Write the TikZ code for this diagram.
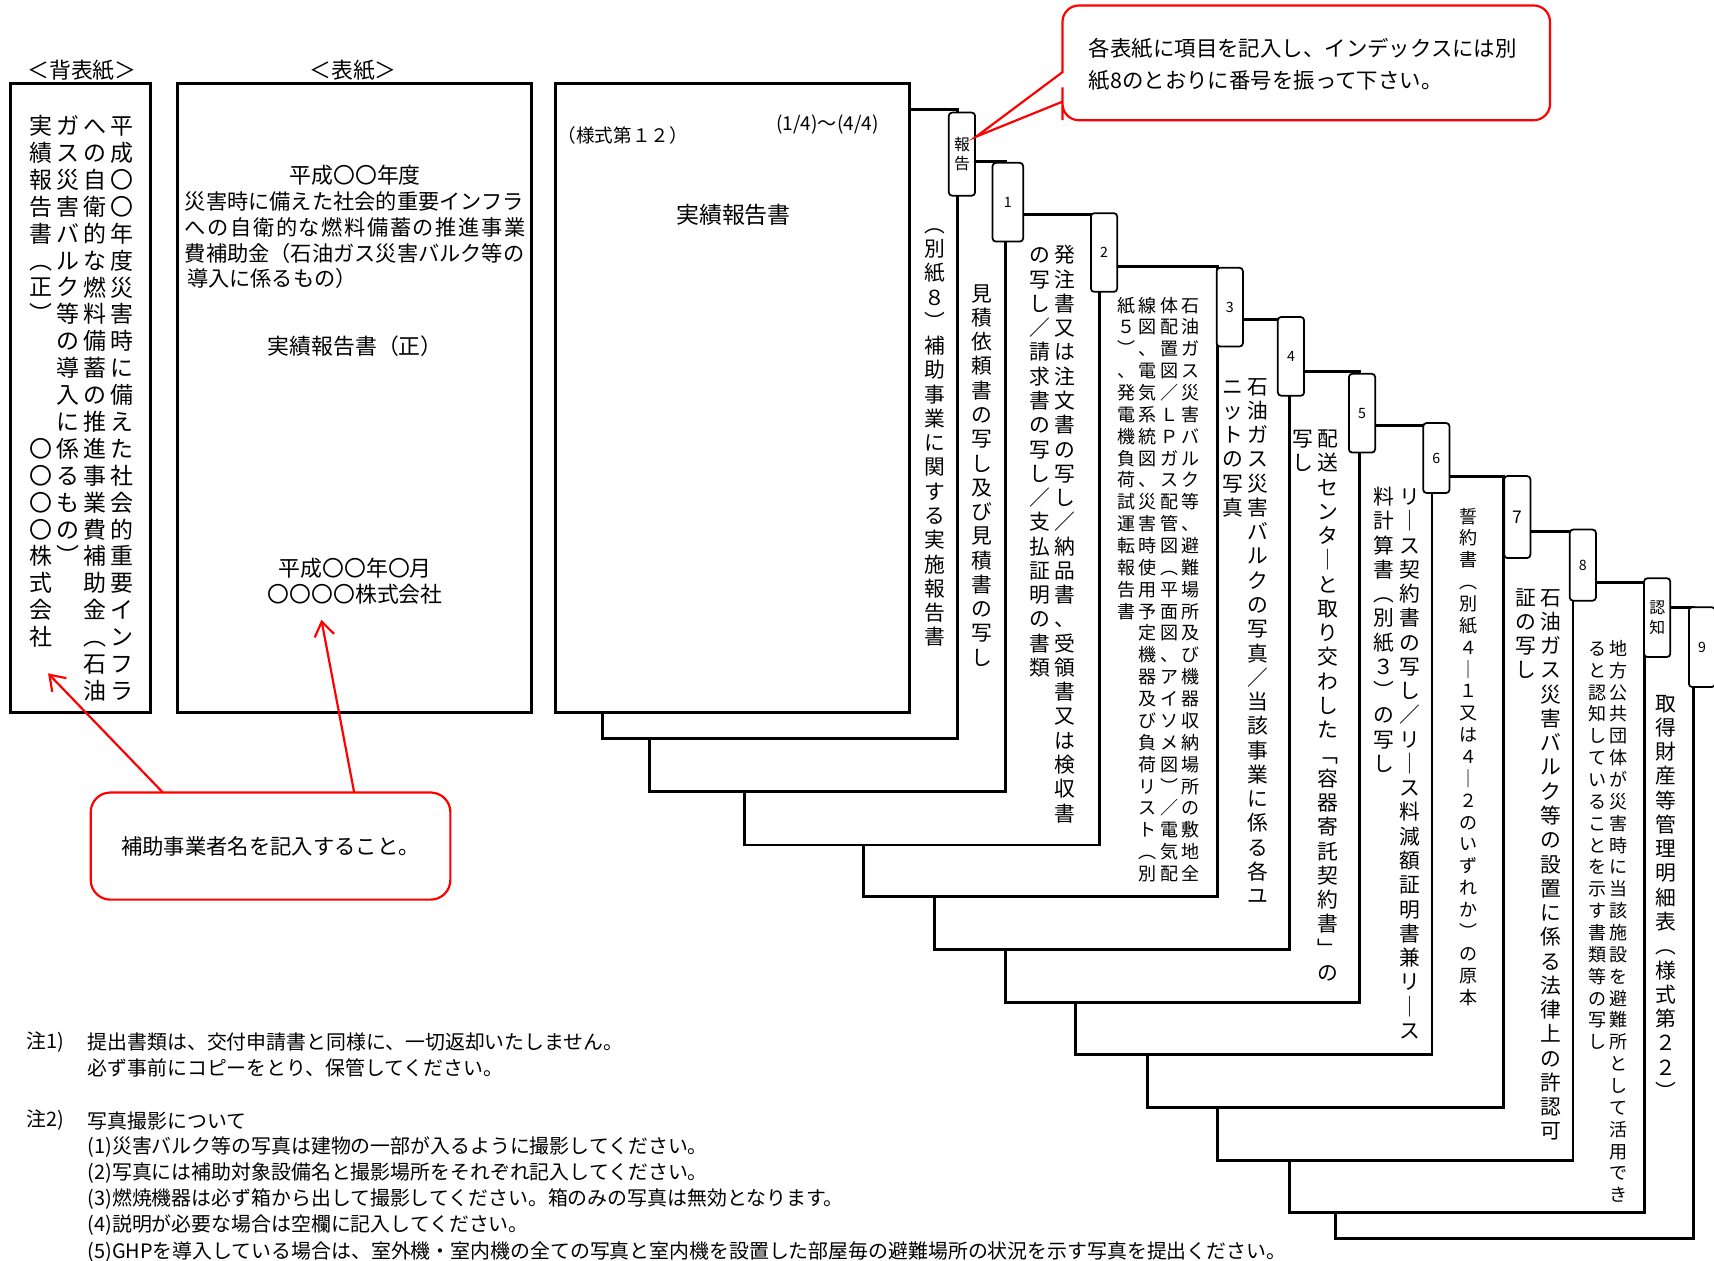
\documentclass[tikz,border=0pt]{standalone}
\usepackage{fontspec}
\setmainfont{Noto Sans CJK JP}
\usetikzlibrary{arrows.meta}

% vertical (tategaki) column: one character per cell
\newlength\tatepitch
\def\tateend{\tateend}
\def\tatestep#1{\ifx#1\tateend\else
  \hbox to 1.3em{\hss\vbox to\tatepitch{\vss\hbox{\vrule height .88em depth .12em width 0pt #1}\vss}\hss}%
  \expandafter\tatestep\fi}
\newcommand\tate[1]{\vbox{\offinterlineskip\tatestep#1\tateend}}

\tikzset{
  sheet/.style    = {draw, line width=2.7pt, fill=white},
  tabbox/.style   = {draw, line width=1.6pt, fill=white, rounded corners=3pt, inner sep=0pt,
                     minimum width=24pt, minimum height=72pt, font=\fontsize{13}{15}\selectfont,
                     execute at begin node={\setlength\tatepitch{18pt}}},
  col/.style      = {inner sep=0pt, anchor=north, font=\fontsize{19}{22}\selectfont,
                     execute at begin node={\setlength\tatepitch{22.2pt}}},
  smallcol/.style = {col, font=\fontsize{16.5}{20}\selectfont,
                     execute at begin node={\setlength\tatepitch{20pt}}},
  backcol/.style  = {col, font=\fontsize{21}{24}\selectfont,
                     execute at begin node={\setlength\tatepitch{24.6pt}}},
  head/.style     = {inner sep=0pt, font=\fontsize{20}{24}\selectfont},
  coverline/.style= {inner sep=0pt, anchor=west, font=\fontsize{19.4}{22}\selectfont},
  memo/.style     = {draw=red, line width=2pt, rounded corners=18pt, fill=white,
                     font=\fontsize{19.5}{22}\selectfont},
  hint/.style     = {draw=red, line width=2pt, fill=white},
  pointer/.style  = {red, line width=2pt, -{Straight Barb[length=13pt,width=18pt]}},
  note/.style     = {inner sep=0pt, anchor=west, font=\fontsize{18.2}{20}\selectfont}
}

\begin{document}
\begin{tikzpicture}[x=1pt, y=-1pt]
\useasboundingbox (0,0) rectangle (1568,1153);

% back cover
\node[head] (lback) at (75,64) {＜背表紙＞};
\draw[sheet] (10,76) rectangle (138,652);
\node[backcol] (b1) at (111.5,102.7) {\tate{平成〇〇年度災害時に備えた社会的重要インフラ}};
\node[backcol] (b2) at (87,102.7) {\tate{への自衛的な燃料備蓄の推進事業費補助金︵石油}};
\node[backcol] (b3) at (62,102.7) {\tate{ガス災害バルク等の導入に係るもの︶}};
\node[backcol] (b4) at (37.5,102.7) {\tate{実績報告書︵正︶\ \ \ \ 〇〇〇〇株式会社}};

% cover
\node[head] (lcover) at (323,64) {＜表紙＞};
\draw[sheet] (162,76) rectangle (486,652);
\node[head] (c1) at (325,160) {平成〇〇年度};
\node[coverline] (c2) at (169,184) {災害時に備えた社会的重要インフラ};
\node[coverline] (c3) at (169,208) {\addfontfeature{LetterSpace=7.5}への自衛的な燃料備蓄の推進事業};
\node[coverline] (c4) at (169,231.5) {費補助金（石油ガス災害バルク等の};
\node[coverline] (c5) at (171,255) {導入に係るもの）};
\node[head] (c6) at (325,317) {実績報告書（正）};
\node[head] (c7) at (325,520) {平成〇〇年〇月};
\node[head] (c8) at (325,544) {〇〇〇〇株式会社};

% stacked sheets, back to front
\draw[sheet] (1222,556) rectangle ++(327,577);
\node[tabbox, minimum height=73pt] (t9) at (1557,592) {9};
\node[col] (p9) at (1524,632) {\tate{取得財産等管理明細表︵様式第２２︶}};

\draw[sheet] (1180,533) rectangle ++(324,576);
\node[tabbox, font=\fontsize{14.5}{16}\selectfont] (tn) at (1516,565) {\tate{認知}};
\node[smallcol] (pn1) at (1481,583) {\tate{地方公共団体が災害時に当該施設を避難所として活用でき}};
\node[smallcol] (pn2) at (1461,583) {\tate{ると認知していることを示す書類等の写し}};

\draw[sheet] (1114,486) rectangle ++(325,576);
\node[tabbox, minimum height=65pt] (t8) at (1448,517) {8};
\node[col] (p81) at (1419,535) {\tate{石油ガス災害バルク等の設置に係る法律上の許認可}};
\node[col] (p82) at (1396,535) {\tate{証の写し}};

\draw[sheet] (1050,436) rectangle ++(325,577);
\node[tabbox, minimum height=75pt, font=\fontsize{16}{18}\selectfont] (t7) at (1388,473) {7};
\node[smallcol] (p7) at (1343,462) {\tate{誓約書︵別紙４｜１又は４｜２のいずれか︶の原本}};

\draw[sheet] (984,389) rectangle ++(326,576);
\node[tabbox, minimum height=64pt] (t6) at (1314,419) {6};
\node[col] (p61) at (1290,443) {\tate{リ｜ス契約書の写し／リ｜ス料減額証明書兼リ｜ス}};
\node[col] (p62) at (1266,443) {\tate{料計算書︵別紙３︶の写し}};

\draw[sheet] (920,340) rectangle ++(324,577);
\node[tabbox] (t5) at (1246,378) {5};
\node[col] (p51) at (1215,390) {\tate{配送センタ｜と取り交わした﹁容器寄託契約書﹂の}};
\node[col] (p52) at (1192,390) {\tate{写し}};

\draw[sheet] (855,292) rectangle ++(325,577);
\node[tabbox] (t4) at (1181,326) {4};
\node[col] (p41) at (1151,342) {\tate{石油ガス災害バルクの写真／当該事業に係る各ユ}};
\node[col] (p42) at (1128,342) {\tate{ニットの写真}};

\draw[sheet] (790,244) rectangle ++(324,576);
\node[tabbox] (t3) at (1125,281) {3};
\node[smallcol] (p31) at (1089,269) {\tate{石油ガス災害バルク等、避難場所及び機器収納場所の敷地全}};
\node[smallcol] (p32) at (1070,269) {\tate{体配置図／ＬＰガス配管図︵平面図、アイソメ図︶／電気配}};
\node[smallcol] (p33) at (1050,269) {\tate{線図、電気系統図、災害時使用予定機器及び負荷リスト︵別}};
\node[smallcol] (p34) at (1031,269) {\tate{紙５︶、発電機負荷試運転報告書}};

\draw[sheet] (681,196) rectangle ++(325,577);
\node[tabbox] (t2) at (1010,231) {2};
\node[col] (p21) at (974,222) {\tate{発注書又は注文書の写し／納品書、受領書又は検収書}};
\node[col] (p22) at (951,222) {\tate{の写し／請求書の写し／支払証明の書類}};

\draw[sheet] (594,148) rectangle ++(326,576);
\node[tabbox, minimum width=28pt] (t1) at (922,185) {1};
\node[col] (p1) at (898,257) {\tate{見積依頼書の写し及び見積書の写し}};

\draw[sheet] (551,100) rectangle ++(325,576);
\node[tabbox, minimum height=76pt, font=\fontsize{14.5}{16}\selectfont] (tr) at (880,141) {\tate{報告}};
\node[col] (pr) at (855,194) {\tate{︵別紙８︶補助事業に関する実施報告書}};

% form No.12
\draw[sheet] (508,76) rectangle ++(324,576);
\node[inner sep=0pt, anchor=west, font=\fontsize{17}{19}\selectfont] (f1) at (510,124) {（様式第１２）};
\node[inner sep=0pt, font=\fontsize{17.5}{19}\selectfont] (f2) at (757,114) {(1/4)～(4/4)};
\node[inner sep=0pt, font=\fontsize{21}{24}\selectfont] (f3) at (671,197) {実績報告書};

% callout to the index tabs
\coordinate (hint tip) at (893,125);
\draw[hint] (hint tip) -- (972,66) -- (972,40) [rounded corners=15pt] -- (972,5) -- (1418,5)
  -- (1418,110) -- (972,110) -- (972,95) [sharp corners] -- (972,93) -- cycle;
\node[coverline, font=\fontsize{19.6}{22}\selectfont] (h1) at (996,44) {各表紙に項目を記入し、インデックスには別};
\node[coverline, font=\fontsize{19.6}{22}\selectfont] (h2) at (996,74) {紙8のとおりに番号を振って下さい。};

% callout to the covers
\node[memo, minimum width=329pt, minimum height=98pt] (memo) at (247.5,774) {補助事業者名を記入すること。};
\coordinate (memo a) at (149,725);
\coordinate (memo b) at (324,725);
\coordinate (name back) at (44,616);
\coordinate (name cover) at (294,567);
\draw[pointer] (memo a) -- (name back);
\draw[pointer] (memo b) -- (name cover);

% notes
\node[note] (n1) at (24,953) {注1)};
\node[note] (n1a) at (80,953) {提出書類は、交付申請書と同様に、一切返却いたしません。};
\node[note] (n1b) at (80,977) {必ず事前にコピーをとり、保管してください。};
\node[note] (n2) at (24,1025) {注2)};
\node[note] (n2a) at (80,1025) {写真撮影について};
\node[note] (n2b) at (80,1049) {(1)災害バルク等の写真は建物の一部が入るように撮影してください。};
\node[note] (n2c) at (80,1073) {(2)写真には補助対象設備名と撮影場所をそれぞれ記入してください。};
\node[note] (n2d) at (80,1097) {(3)燃焼機器は必ず箱から出して撮影してください。箱のみの写真は無効となります。};
\node[note] (n2e) at (80,1121) {(4)説明が必要な場合は空欄に記入してください。};
\node[note] (n2f) at (80,1145) {(5)GHPを導入している場合は、室外機・室内機の全ての写真と室内機を設置した部屋毎の避難場所の状況を示す写真を提出ください。};
\end{tikzpicture}
\end{document}
